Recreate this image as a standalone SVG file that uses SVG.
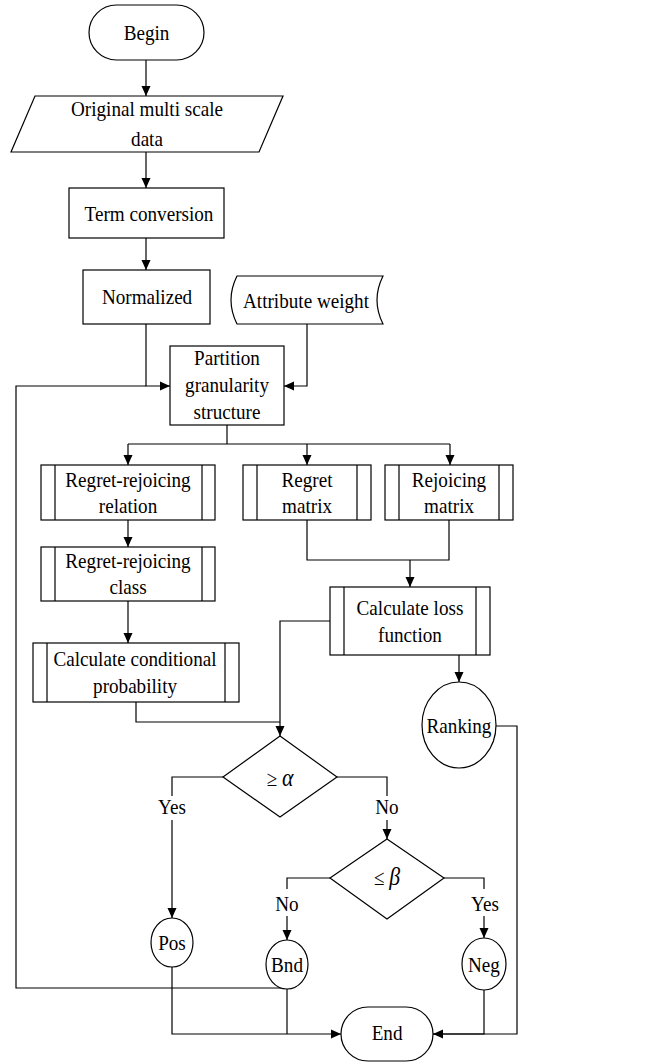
<svg xmlns="http://www.w3.org/2000/svg" width="665" height="1064" viewBox="0 0 665 1064">
<style>
.s{fill:#fff;stroke:#000;stroke-width:1.2}
.c{fill:none;stroke:#000;stroke-width:1.2}
text{font-family:"Liberation Serif","Times New Roman",serif;font-size:22px;fill:#000;text-anchor:middle;transform-box:fill-box;transform-origin:center;transform:scaleX(0.87)}
</style>
<defs>
<marker id="a" viewBox="0 0 10 10" refX="10" refY="5" markerWidth="10" markerHeight="10" markerUnits="userSpaceOnUse" orient="auto">
<path d="M0,0.5 L10,5 L0,9.5 Z" fill="#000"/>
</marker>
</defs>
<g id="connectors">
<path class="c" d="M146,60 V96" marker-end="url(#a)"/>
<path class="c" d="M146,152 V188" marker-end="url(#a)"/>
<path class="c" d="M146,238 V270" marker-end="url(#a)"/>
<path class="c" d="M146,324 V386 H170" marker-end="url(#a)"/>
<path class="c" d="M307,324 V386 H284" marker-end="url(#a)"/>
<path class="c" d="M287,988 H16 V386 H146"/>
<path class="c" d="M227,425 V444"/>
<path class="c" d="M128,444 H450"/>
<path class="c" d="M128,444 V465" marker-end="url(#a)"/>
<path class="c" d="M307,444 V465" marker-end="url(#a)"/>
<path class="c" d="M450,444 V465" marker-end="url(#a)"/>
<path class="c" d="M307,520 V560 H449 V520"/>
<path class="c" d="M410,560 V587" marker-end="url(#a)"/>
<path class="c" d="M128,520 V547" marker-end="url(#a)"/>
<path class="c" d="M128,601 V643" marker-end="url(#a)"/>
<path class="c" d="M136,702 V722 H280"/>
<path class="c" d="M330,621 H280 V736" marker-end="url(#a)"/>
<path class="c" d="M459,655 V682" marker-end="url(#a)"/>
<path class="c" d="M496,726 H517 V1034 H433" marker-end="url(#a)"/>
<path class="c" d="M223,777 H172 V796"/>
<path class="c" d="M172,820 V918" marker-end="url(#a)"/>
<path class="c" d="M337,777 H387 V796"/>
<path class="c" d="M387,820 V839" marker-end="url(#a)"/>
<path class="c" d="M330,878 H287 V889"/>
<path class="c" d="M287,916 V940" marker-end="url(#a)"/>
<path class="c" d="M444,878 H484 V889"/>
<path class="c" d="M484,916 V938" marker-end="url(#a)"/>
<path class="c" d="M172,967 V1034 H341" marker-end="url(#a)"/>
<path class="c" d="M287,989 V1034"/>
<path class="c" d="M484,990 V1034 H433"/>
<text x="172" y="814">Yes</text>
<text x="387" y="814">No</text>
<text x="287" y="911">No</text>
<text x="485" y="911">Yes</text>
</g>
<g id="begin">
<rect class="s" x="89" y="5" width="115" height="55" rx="27.5"/>
<text x="146.5" y="40">Begin</text>
</g>
<g id="data">
<path class="s" d="M35,96 H283 L259,152 H11 Z"/>
<text x="147" y="116">Original multi scale</text>
<text x="147" y="146">data</text>
</g>
<g id="term">
<rect class="s" x="69" y="188" width="155" height="50"/>
<text x="149" y="221">Term conversion</text>
</g>
<g id="normalized">
<rect class="s" x="83" y="270" width="127" height="54"/>
<text x="147" y="304">Normalized</text>
</g>
<g id="weight">
<path class="s" d="M237,276 H383 Q371,300 383,324 H237 Q225,300 237,276 Z"/>
<text x="306" y="308">Attribute weight</text>
</g>
<g id="partition">
<rect class="s" x="170" y="346" width="114" height="79"/>
<text x="227" y="365">Partition</text>
<text x="227" y="392">granularity</text>
<text x="227" y="419">structure</text>
</g>
<g id="relation">
<rect class="s" x="41" y="465" width="174" height="55"/>
<path class="c" d="M55,465 V520 M202,465 V520"/>
<text x="128" y="487">Regret-rejoicing</text>
<text x="128" y="513">relation</text>
</g>
<g id="regret">
<rect class="s" x="243" y="465" width="128" height="55"/>
<path class="c" d="M257,465 V520 M357,465 V520"/>
<text x="307" y="487">Regret</text>
<text x="307" y="513">matrix</text>
</g>
<g id="rejoicing">
<rect class="s" x="385" y="465" width="128" height="55"/>
<path class="c" d="M399,465 V520 M499,465 V520"/>
<text x="449" y="487">Rejoicing</text>
<text x="449" y="513">matrix</text>
</g>
<g id="class">
<rect class="s" x="41" y="547" width="174" height="54"/>
<path class="c" d="M55,547 V601 M202,547 V601"/>
<text x="128" y="568">Regret-rejoicing</text>
<text x="128" y="594">class</text>
</g>
<g id="loss">
<rect class="s" x="330" y="587" width="160" height="68"/>
<path class="c" d="M344,587 V655 M476,587 V655"/>
<text x="410" y="615">Calculate loss</text>
<text x="410" y="642">function</text>
</g>
<g id="probability">
<rect class="s" x="33" y="643" width="206" height="59"/>
<path class="c" d="M47,643 V702 M225,643 V702"/>
<text x="135" y="666">Calculate conditional</text>
<text x="135" y="693">probability</text>
</g>
<g id="ranking">
<ellipse class="s" cx="459" cy="725" rx="37" ry="43"/>
<text x="459" y="733">Ranking</text>
</g>
<g id="alpha">
<path class="s" d="M280,736 L337,777 L280,817 L223,777 Z"/>
<text x="280" y="786">≥ <tspan font-style="italic" font-size="25">α</tspan></text>
</g>
<g id="beta">
<path class="s" d="M387,839 L444,878 L387,919 L330,878 Z"/>
<text x="387" y="885">≤ <tspan font-style="italic" font-size="25">β</tspan></text>
</g>
<g id="pos">
<ellipse class="s" cx="172" cy="942.5" rx="21" ry="24.5"/>
<text x="172" y="950">Pos</text>
</g>
<g id="bnd">
<ellipse class="s" cx="287" cy="964.5" rx="21" ry="24.5"/>
<text x="287" y="972">Bnd</text>
</g>
<g id="neg">
<ellipse class="s" cx="484" cy="964" rx="22" ry="26"/>
<text x="484" y="972">Neg</text>
</g>
<g id="end">
<rect class="s" x="341" y="1007" width="92" height="54" rx="27"/>
<text x="387" y="1040">End</text>
</g>
</svg>
